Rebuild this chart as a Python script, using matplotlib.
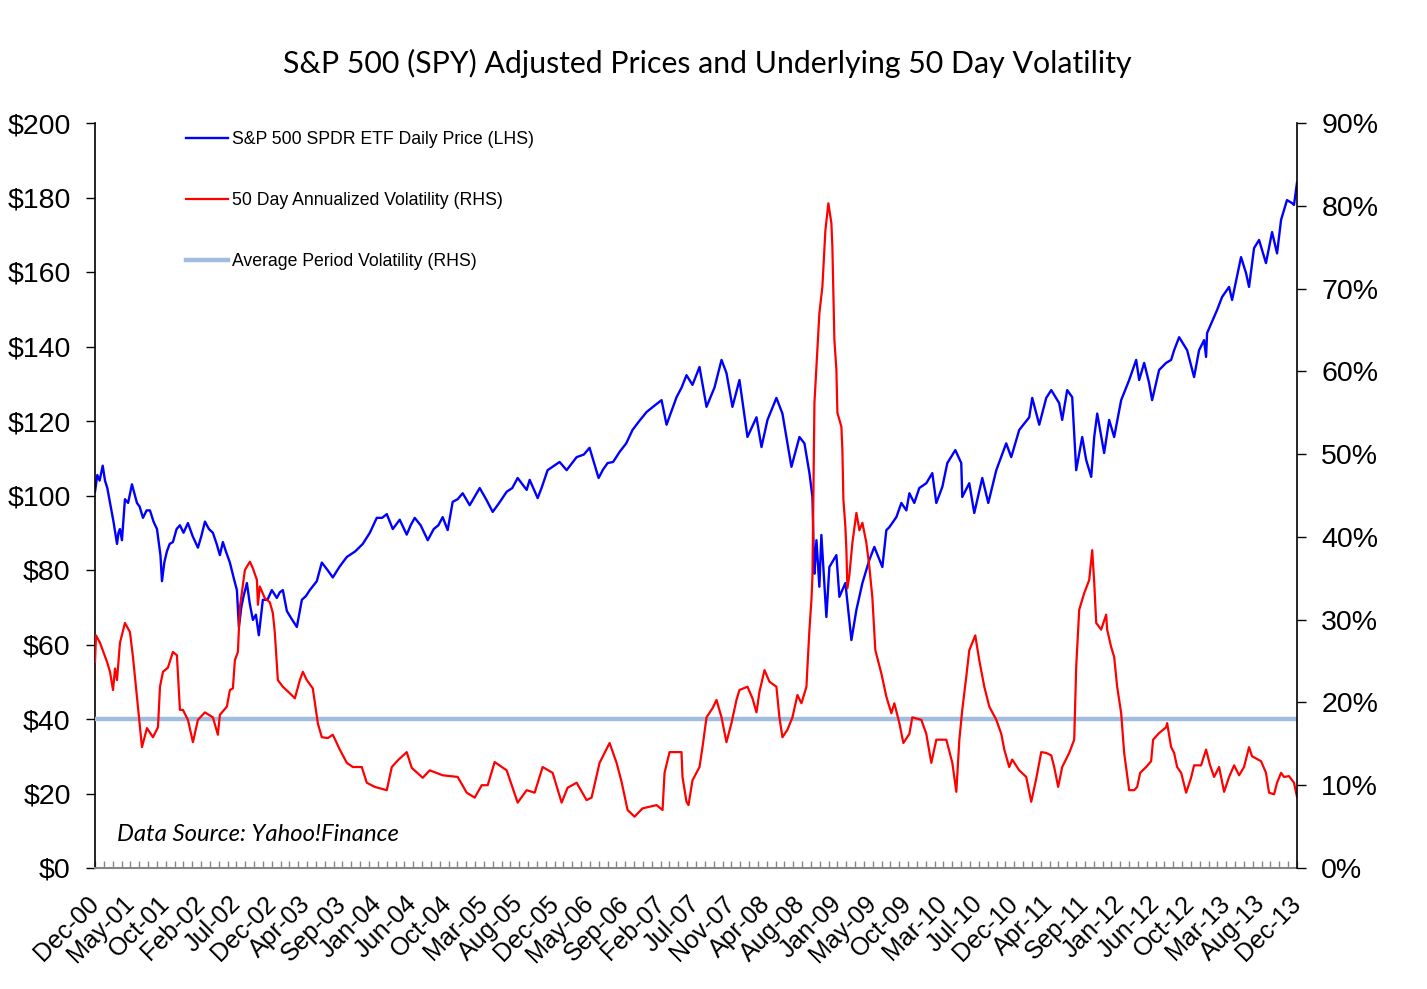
import numpy as np
import matplotlib
matplotlib.use('Agg')
import matplotlib.pyplot as plt
from matplotlib.lines import Line2D
from matplotlib.ticker import FuncFormatter

# months counted from Dec-00
price_months = [0.0, 0.3, 0.6, 1.0, 1.3, 1.6, 1.95, 2.4, 2.86, 3.05, 3.24, 3.5, 3.89, 4.3, 4.8, 5.45, 5.8,
                6.23, 6.7, 7.14, 7.6, 8.05, 8.5, 8.7, 9.0, 9.34, 9.7, 10.12, 10.6, 11.03, 11.5, 12.07, 12.7,
                13.37, 13.8, 14.28, 14.8, 15.31, 15.8, 16.22, 16.61, 17.0, 17.52, 18.0, 18.43, 18.69, 19.0,
                19.3, 19.73, 20.1, 20.51, 20.9, 21.28, 21.8, 22.4, 22.97, 23.62, 24.0, 24.4, 24.92, 25.5,
                26.22, 26.87, 27.4, 27.9, 28.81, 29.46, 30.2, 30.89, 31.8, 32.71, 33.8, 34.78, 35.7, 36.6,
                37.3, 37.9, 38.68, 39.58, 40.49, 41.0, 41.53, 42.3, 43.22, 44.0, 44.6, 45.16, 45.81, 46.46,
                47.1, 47.76, 48.67, 49.97, 50.8, 51.66, 52.5, 53.47, 54.2, 54.9, 56.07, 56.46, 57.5, 58.0,
                58.79, 60.35, 61.26, 62.56, 63.5, 64.24, 65.41, 66.0, 66.58, 67.3, 68.14, 69.0, 69.82, 70.7,
                71.64, 72.6, 73.59, 74.24, 75.54, 76.2, 76.83, 77.61, 78.52, 79.43, 80.47, 81.38, 82.02,
                82.8, 83.71, 84.75, 85.92, 86.57, 87.35, 88.51, 89.29, 90.46, 91.5, 92.15, 92.8, 93.19,
                93.35, 93.45, 93.71, 94.09, 94.35, 95.0, 95.39, 96.3, 96.69, 97.47, 98.25, 98.9, 99.68,
                100.58, 101.23, 102.27, 102.79, 103.18, 104.09, 104.74, 105.39, 105.78, 106.42, 107.07,
                107.98, 108.76, 109.28, 110.06, 110.71, 111.75, 112.52, 112.65, 113.56, 114.21, 115.25,
                116.03, 117.07, 118.36, 119.01, 120.05, 121.35, 121.74, 122.65, 123.56, 124.21, 125.24,
                125.63, 126.28, 126.93, 127.45, 128.23, 128.75, 129.4, 129.79, 130.18, 131.08, 131.73,
                132.38, 133.29, 134.33, 135.24, 135.63, 136.28, 136.92, 137.31, 138.22, 139.13, 139.78,
                140.17, 140.82, 141.86, 142.76, 143.41, 144.06, 144.32, 144.45, 145.75, 146.4, 147.31,
                147.7, 148.86, 149.51, 149.9, 150.55, 151.2, 152.1, 152.89, 153.54, 154.06, 154.83, 155.48,
                155.74, 156.13]
price = [101, 105.5, 104, 108, 104, 102, 98, 93, 87, 90, 91, 88, 99, 98, 103, 98, 97,
         94, 96, 96, 93, 91, 84, 77, 82, 85, 87, 87.5, 91, 92, 90, 92.6, 89,
         86, 89, 93, 91, 90, 87, 84, 87.5, 85, 82, 78, 74.6, 64.7, 70,
         73, 76.5, 71, 66.6, 68, 62.5, 72, 72, 74.6, 72.5, 74, 74.6, 69, 67,
         64.7, 72, 73, 74.6, 77, 82, 80, 78, 81, 83.5, 85, 87, 90, 94,
         94, 95, 91, 93.5, 89.5, 92, 94, 92, 88, 91, 92, 94.2, 90.7, 98.3,
         99, 100.6, 97.4, 102, 99, 95.6, 98, 101, 102, 104.7, 101.5, 104.2, 99.3, 102,
         106.8, 109, 106.8, 110.3, 111, 112.8, 104.7, 107, 108.7, 109, 111.7, 114, 117.6, 120,
         122.4, 124, 125.6, 119, 126.4, 129, 132.3, 129.7, 134.5, 123.8, 129, 136.4, 132.9,
         123.8, 131, 115.7, 121, 113, 120.3, 126.2, 122, 107.7, 115.7, 114, 106, 99.6,
         85, 79, 88, 75.5, 89.4, 67.4, 80.8, 84, 72.8, 76.5, 61.2, 69.3, 76.5,
         82.7, 86.2, 80.8, 90.7, 91.5, 94.2, 98, 96, 100.6, 98, 102,
         103.3, 106, 98, 102.3, 108.7, 112.2, 108.7, 99.6, 103.3, 95.3, 104.7,
         98, 106.8, 114, 110.3, 117.6, 121, 126.2, 119, 126.2, 128.3, 124.8,
         120.3, 128.3, 126.4, 106.8, 115.7, 109.5, 105, 115.7, 122, 111.4, 120.3,
         115.7, 125.6, 131, 136.4, 131, 135.6, 130.2, 125.6, 133.7, 135.6, 136.4,
         139, 142.5, 139, 131.8, 139, 141.7, 137.2, 143.6, 149.8, 153.3, 156,
         152.5, 164, 159.7, 156, 166.4, 168.6, 162.4, 170.7, 165, 174, 179.3, 178.5,
         178, 184]

vol_months = [0.0, 0.13, 0.65, 1.56, 1.95, 2.34, 2.6, 2.86, 3.24, 3.89, 4.54, 4.93, 5.58, 6.1, 6.75, 7.53,
              8.18, 8.44, 8.83, 9.47, 10.12, 10.64, 11.03, 11.42, 12.07, 12.72, 13.37, 14.28, 15.31, 15.96,
              16.22, 17.13, 17.52, 17.91, 18.17, 18.56, 18.82, 19.47, 20.12, 20.51, 21.03, 21.16, 21.41,
              22.06, 22.71, 23.1, 23.36, 23.75, 24.4, 25.31, 25.96, 26.61, 27.0, 27.51, 28.29, 28.94,
              29.46, 30.24, 30.89, 31.8, 32.71, 33.49, 34.65, 35.3, 36.34, 37.9, 38.55, 39.33, 40.49,
              41.14, 42.57, 43.48, 45.16, 47.11, 48.28, 49.32, 50.23, 51.01, 51.91, 53.47, 54.9, 56.07,
              57.11, 58.14, 59.44, 60.61, 61.39, 62.56, 63.85, 64.5, 65.54, 66.84, 67.75, 68.4, 69.18,
              70.08, 71.12, 72.94, 73.72, 73.98, 74.63, 76.18, 76.31, 76.83, 77.09, 77.61, 78.52, 78.91,
              79.43, 80.21, 80.73, 81.38, 82.02, 82.67, 83.32, 83.71, 84.75, 85.4, 85.92, 86.31, 86.96,
              87.61, 88.51, 88.9, 89.29, 89.94, 90.59, 91.24, 91.76, 92.41, 92.54, 92.8, 93.06, 93.19,
              93.45, 94.09, 94.48, 94.87, 95.26, 95.65, 95.78, 96.04, 96.3, 96.43, 96.95, 97.08, 97.21,
              97.47, 97.6, 97.73, 97.99, 98.38, 98.9, 99.29, 99.68, 100.19, 100.58, 100.97, 101.36,
              102.14, 102.79, 103.44, 103.83, 104.48, 105.0, 105.78, 106.16, 107.33, 107.98, 108.63,
              109.28, 110.58, 111.36, 111.88, 112.27, 112.65, 113.17, 113.56, 114.34, 114.86, 115.51,
              116.16, 117.07, 117.72, 118.11, 118.75, 119.14, 120.05, 120.96, 121.61, 122.26, 122.91,
              123.56, 124.21, 124.59, 125.11, 125.63, 126.54, 127.19, 127.45, 127.84, 128.49, 129.14,
              129.53, 129.79, 130.05, 130.69, 131.34, 131.47, 131.99, 132.38, 132.77, 133.29, 133.68,
              134.33, 134.98, 135.37, 135.76, 136.53, 137.18, 137.44, 138.22, 139.13, 139.26, 139.78,
              140.17, 140.56, 141.08, 141.73, 142.37, 142.76, 143.67, 144.32, 144.84, 145.36, 146.01,
              146.66, 147.31, 147.96, 148.61, 149.25, 149.9, 150.29, 151.46, 152.1, 152.5, 153.15,
              153.54, 154.06, 154.44, 155.09, 155.74, 156.13]
vol = [24.9, 28.1, 27.2, 24.9, 23.7, 21.5, 24.1, 22.7, 27.2, 29.6, 28.5, 25.5, 19.5, 14.6, 16.9, 15.8,
       17.0, 21.9, 23.7, 24.2, 26.1, 25.7, 19.1, 19.1, 17.9, 15.2, 17.9, 18.8, 18.2, 16.1,
       18.5, 19.5, 21.5, 21.7, 25.1, 26.1, 31.5, 36.0, 37.0, 36.2, 34.8, 31.8, 34.0,
       32.6, 32.1, 30.8, 28.4, 22.7, 21.9, 21.1, 20.5, 22.7, 23.7, 22.7, 21.7, 17.5,
       15.8, 15.7, 16.1, 14.3, 12.7, 12.2, 12.2, 10.3, 9.8, 9.4, 12.2, 13.0, 14.0,
       12.1, 10.9, 11.8, 11.2, 11.0, 9.1, 8.5, 10.0, 10.0, 12.8, 11.8, 7.9, 9.4,
       9.1, 12.2, 11.5, 7.9, 9.7, 10.3, 8.2, 8.5, 12.7, 15.1, 12.7, 10.4, 7.0,
       6.2, 7.2, 7.6, 7.0, 11.5, 14.0, 14.0, 11.0, 8.0, 7.6, 10.6, 12.2, 14.6,
       18.2, 19.3, 20.3, 18.2, 15.2, 17.5, 20.3, 21.5, 21.9, 20.5, 18.8, 21.3, 23.9,
       22.5, 21.9, 18.2, 15.8, 16.7, 18.2, 20.9, 19.9, 21.9, 24.3, 28.8, 32.4, 35.2,
       56.2, 67.0, 70.2, 77.0, 80.3, 77.9, 75.0, 63.8, 60.2, 55.0, 53.3, 50.5, 44.5,
       41.2, 38.4, 33.8, 35.4, 39.3, 42.9, 40.8, 41.7, 39.3, 36.4, 32.7, 26.3,
       23.5, 20.7, 18.7, 19.9, 17.5, 15.1, 16.2, 18.2, 17.9, 16.2, 12.7,
       15.5, 15.5, 12.7, 9.2, 15.5, 19.1, 23.1, 26.3, 28.1, 25.1, 21.9,
       19.5, 17.9, 16.2, 14.3, 12.2, 13.1, 11.8, 11.0, 8.0, 10.8, 14.0,
       13.9, 13.6, 12.2, 9.8, 12.2, 13.9, 15.5, 24.3, 31.2, 33.2, 34.8,
       38.4, 34.5, 29.6, 28.8, 30.6, 28.8, 26.7, 25.5, 21.9, 18.7, 13.9,
       9.4, 9.4, 9.8, 11.5, 12.2, 12.9, 15.5, 16.3, 17.0, 17.5, 14.6,
       13.9, 12.2, 11.5, 9.1, 10.9, 12.4, 12.4, 14.3, 12.4, 11.0, 12.2,
       9.2, 11.0, 12.4, 11.2, 12.2, 14.6, 13.5, 12.9, 11.5, 9.1, 8.9,
       10.3, 11.5, 11.0, 11.1, 10.3, 8.6]

avg_vol = 18.0

xlabels = ['Dec-00', 'May-01', 'Oct-01', 'Feb-02', 'Jul-02', 'Dec-02', 'Apr-03', 'Sep-03', 'Jan-04',
           'Jun-04', 'Oct-04', 'Mar-05', 'Aug-05', 'Dec-05', 'May-06', 'Sep-06', 'Feb-07', 'Jul-07',
           'Nov-07', 'Apr-08', 'Aug-08', 'Jan-09', 'May-09', 'Oct-09', 'Mar-10', 'Jul-10', 'Dec-10',
           'Apr-11', 'Sep-11', 'Jan-12', 'Jun-12', 'Oct-12', 'Mar-13', 'Aug-13', 'Dec-13']

names = ['S&P 500 SPDR ETF Daily Price (LHS)',
         '50 Day Annualized Volatility (RHS)',
         'Average Period Volatility (RHS)']

blue = '#0000FF'
red = '#FF0000'
avg_color = '#A0BCDF'
grey = '#868686'

plt.rcParams['font.family'] = 'Liberation Sans'

fig = plt.figure(figsize=(14.27, 9.89), dpi=100)
ax = fig.add_axes([95 / 1427, 121 / 989, 1202 / 1427, 745 / 989])
ax2 = ax.twinx()

ax.plot(price_months, price, color=blue, lw=1.7)
ax2.axhline(avg_vol, color=avg_color, lw=3.2)
ax2.plot(vol_months, vol, color=red, lw=1.6)

ax.set_xlim(price_months[0], price_months[-1])
ax.set_ylim(0, 200)
ax2.set_ylim(0, 90)

ax.set_yticks(np.arange(0, 201, 20))
ax.yaxis.set_major_formatter(FuncFormatter(lambda v, p: '$%d' % v))
ax2.set_yticks(np.arange(0, 91, 10))
ax2.yaxis.set_major_formatter(FuncFormatter(lambda v, p: '%d%%' % v))

x0, x1 = ax.get_xlim()
ax.set_xticks(np.linspace(x0, x1, len(xlabels)))
ax.set_xticklabels(xlabels, rotation=45, ha='right', va='center', rotation_mode='anchor')
ax.set_xticks(np.linspace(x0, x1, 4 * (len(xlabels) - 1) + 1), minor=True)
ax.tick_params(axis='x', which='both', direction='in', length=5, width=1, color=grey,
               labelsize=18, pad=23)
ax.tick_params(axis='y', direction='out', length=6.5, width=1, labelsize=20.5, pad=11)
ax2.tick_params(axis='y', direction='out', length=6.5, width=1, labelsize=20.5, pad=11)

for a in (ax, ax2):
    a.spines['top'].set_visible(False)
ax.spines['right'].set_visible(False)
ax2.spines['left'].set_visible(False)
ax2.spines['bottom'].set_visible(False)
ax.spines['bottom'].set_color(grey)
ax.spines['bottom'].set_linewidth(1.5)
ax.spines['left'].set_linewidth(1.2)
ax2.spines['right'].set_linewidth(1.2)

handles = [Line2D([], [], color=blue, lw=1.7),
           Line2D([], [], color=red, lw=1.6),
           Line2D([], [], color=avg_color, lw=3.2)]
ax2.legend(handles, names, loc='upper left', bbox_to_anchor=(0.0757, 0.989), frameon=False,
           prop={'family': 'Liberation Sans', 'size': 12.7}, handlelength=2.4, handletextpad=0.22,
           labelspacing=2.5, borderpad=0, borderaxespad=0)

ax.text(0.0183, 0.0443, 'Data Source: Yahoo!Finance', transform=ax.transAxes, va='center',
        family='Lato', style='italic', size=17.2)

fig.text(0.496, 1 - 63 / 989, 'S&P 500 (SPY) Adjusted Prices and Underlying 50 Day Volatility',
         ha='center', va='center', family='Lato', size=21.8)

fig.savefig('out.png', dpi=100)
